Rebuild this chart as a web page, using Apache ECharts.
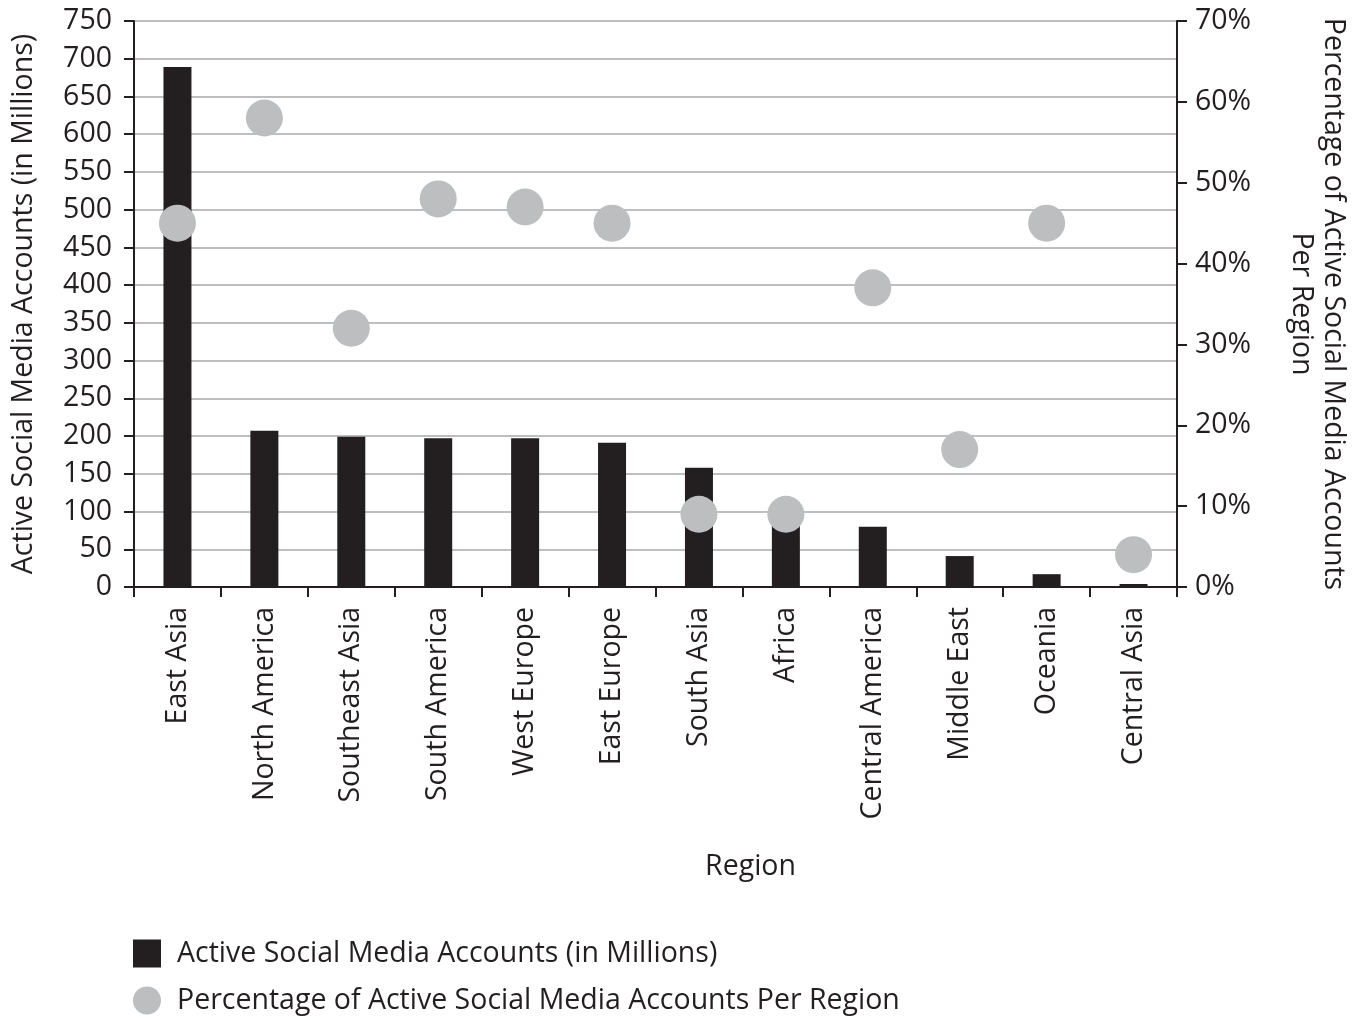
<!DOCTYPE html>
<html><head><meta charset="utf-8">
<script src="https://cdn.jsdelivr.net/npm/echarts@6/dist/echarts.min.js"></script>
<style>html,body{margin:0;padding:0;background:#fff}#c{width:1361px;height:1018px}</style>
</head><body><div id="c"></div>
<script>
const regions = ['East Asia','North America','Southeast Asia','South America','West Europe','East Europe','South Asia','Africa','Central America','Middle East','Oceania','Central Asia'];
const accounts = [689, 207, 199, 197, 197, 191, 158, 98, 80, 41, 17, 4];
const percentages = [45, 58, 32, 48, 47, 45, 9, 9, 37, 17, 45, 4];
const FONT = '"Open Sans", sans-serif';
const FS = 28.5;
const DARK = '#231f20', GREY = '#bcbec0';
const S1 = 'Active Social Media Accounts (in Millions)';
const S2 = 'Percentage of Active Social Media Accounts Per Region';
const chart = echarts.init(document.getElementById('c'));
const legendBase = {orient: 'vertical', left: 133, padding: 0, itemWidth: 28, itemHeight: 28, selectedMode: false,
  textStyle: {fontFamily: FONT, fontSize: FS, color: DARK, padding: [0,0,0,11]}};
chart.setOption({
  animation: false,
  textStyle: {fontFamily: FONT},
  grid: {left: 134, right: 184, top: 21, bottom: 431, show: true, borderColor: DARK, borderWidth: 2, backgroundColor: 'transparent'},
  legend: [
    Object.assign({}, legendBase, {top: 939, data: [{name: S1, icon: 'rect'}]}),
    Object.assign({}, legendBase, {top: 986, data: [{name: S2, icon: 'circle'}]})
  ],
  xAxis: {
    type: 'category', data: regions, name: 'Region', nameLocation: 'middle', nameGap: 265,
    nameTextStyle: {fontSize: FS, color: DARK, fontFamily: FONT, padding: [0,0,0,190]},
    axisLine: {lineStyle: {color: DARK, width: 2}},
    axisTick: {show: true, length: 10, lineStyle: {color: DARK, width: 2}},
    axisLabel: {rotate: 90, fontSize: FS, color: DARK, margin: 20, fontFamily: FONT}
  },
  yAxis: [{
    type: 'value', min: 0, max: 750, interval: 50,
    name: S1, nameLocation: 'middle', nameGap: 96, nameRotate: 90,
    nameTextStyle: {fontSize: FS, color: DARK, fontFamily: FONT},
    axisLine: {show: true, lineStyle: {color: DARK, width: 2}},
    axisTick: {show: true, length: 10, lineStyle: {color: DARK, width: 2}},
    axisLabel: {fontSize: FS, color: DARK, margin: 22, fontFamily: FONT},
    splitLine: {lineStyle: {color: GREY, width: 2}}
  }, {
    type: 'value', min: 0, max: 70, interval: 10, position: 'right',
    name: 'Percentage of Active Social Media Accounts\nPer Region', nameLocation: 'middle', nameGap: 108, nameRotate: -90,
    nameTextStyle: {fontSize: FS, color: DARK, fontFamily: FONT, lineHeight: 32},
    axisLine: {show: true, lineStyle: {color: DARK, width: 2}},
    axisTick: {show: true, length: 10, lineStyle: {color: DARK, width: 2}},
    axisLabel: {fontSize: FS, color: DARK, margin: 18, fontFamily: FONT, formatter: '{value}%'},
    splitLine: {show: false}
  }],
  series: [{
    name: S1, type: 'bar', data: accounts, barWidth: 28,
    itemStyle: {color: DARK}, z: 2
  }, {
    name: S2, type: 'scatter', yAxisIndex: 1, data: percentages,
    symbol: 'circle', symbolSize: 37, itemStyle: {color: GREY, opacity: 1}, z: 3
  }]
});
</script></body></html>
